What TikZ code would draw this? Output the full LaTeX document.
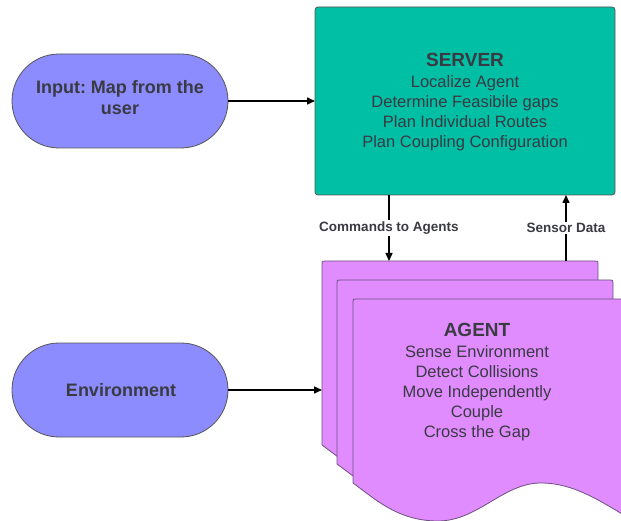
\documentclass[tikz,border=0pt]{standalone}
\usepackage{fontspec}
\setmainfont{Liberation Sans}
\usetikzlibrary{arrows.meta,shapes.misc}
\frenchspacing

\definecolor{serverfill}{RGB}{0,191,165}
\definecolor{ovalfill}{RGB}{140,140,255}
\definecolor{docfill}{RGB}{224,140,255}
\definecolor{inktext}{RGB}{58,58,66}
\definecolor{edgegray}{RGB}{85,85,85}
\definecolor{docedge}{RGB}{110,80,125}

% one sheet of the agent document stack: #1 = left x, #2 = top y
\newcommand\agentdoc[2]{%
  \draw[docshape] (#1,#2+184) -- (#1,#2+3) .. controls (#1,#2) .. (#1+3,#2)
    -- (#1+273,#2) .. controls (#1+276,#2) .. (#1+276,#2+3)
    -- (#1+276,#2+219)
    .. controls (#1+250,#2+204) and (#1+222,#2+184) .. (#1+188,#2+184)
    .. controls (#1+150,#2+184) and (#1+125,#2+222) .. (#1+85,#2+222)
    .. controls (#1+45,#2+222) and (#1+22,#2+200) .. (#1,#2+184) -- cycle;}

\tikzset{
  serverbox/.style={draw=edgegray, line width=0.8pt, fill=serverfill,
    rounded corners=3pt, inner sep=0pt, outer sep=0pt},
  oval/.style={rounded rectangle, draw=edgegray, line width=0.8pt, fill=ovalfill,
    minimum width=216pt, minimum height=94pt, inner sep=0pt, outer sep=0pt},
  docshape/.style={draw=docedge, line width=0.8pt, fill=docfill},
  ovaltxt/.style={anchor=base, inner sep=0pt, text=inktext,
    font=\bfseries\fontsize{18}{21}\selectfont},
  titletxt/.style={anchor=base, inner sep=0pt, text=inktext,
    font=\bfseries\fontsize{19}{22}\selectfont},
  bodytxt/.style={anchor=base, inner sep=0pt, text=inktext,
    font=\fontsize{16.5}{20}\selectfont},
  lab/.style={fill=white, inner sep=1.5pt, text=inktext,
    font=\bfseries\fontsize{13.5}{15}\selectfont},
  arr/.style={line width=1.5pt, draw=black,
    -{Triangle[length=8pt,width=7pt]}},
}

\begin{document}
\begin{tikzpicture}[x=1pt,y=-1pt]
\useasboundingbox (0,0) rectangle (621,521);

% server block
\node[serverbox, minimum width=300pt, minimum height=188pt] (server) at (465,101) {};
\node[titletxt] (servertitle) at (465,67) {SERVER};
\node[bodytxt] (srv1) at (465,88) {Localize Agent};
\node[bodytxt] (srv2) at (465,108) {Determine Feasibile gaps};
\node[bodytxt] (srv3) at (465,128) {Plan Individual Routes};
\node[bodytxt] (srv4) at (465,148) {Plan Coupling Configuration};

% inputs
\node[oval] (input) at (120,101) {};
\node[ovaltxt] (inputtxt1) at (120,94) {Input: Map from the};
\node[ovaltxt] (inputtxt2) at (120,115) {user};

\node[oval] (env) at (120,390) {};
\node[ovaltxt] (envtxt) at (121,396.5) {Environment};

% stacked agent documents
\begin{scope}
\clip (0,0) rectangle (621,521);
\agentdoc{322}{261}
\agentdoc{337}{280}
\agentdoc{353}{299}
\end{scope}
\node[inner sep=0pt, outer sep=0pt, minimum width=276pt, minimum height=184pt] (stack) at (460,353) {};
\node[titletxt] (agenttitle) at (477,336) {AGENT};
\node[bodytxt] (ag1) at (477,357.5) {Sense Environment};
\node[bodytxt] (ag2) at (477,377.5) {Detect Collisions};
\node[bodytxt] (ag3) at (477,397.5) {Move Independently};
\node[bodytxt] (ag4) at (477,417.5) {Couple};
\node[bodytxt] (ag5) at (477,437.5) {Cross the Gap};

% connector end points on the top sheet
\coordinate (cmd) at (389,261);
\coordinate (sens) at (566,261);

% connectors
\draw[arr] (input.east) -- (input.east -| server.west);
\draw[arr] (env.east) -- (env.east -| stack.west);
\draw[arr] (server.south -| cmd) -- node[lab] (cmdlab) {Commands to Agents} (cmd);
\draw[arr] (sens) -- node[lab] (senslab) {Sensor Data} (server.south -| sens);
\end{tikzpicture}
\end{document}
